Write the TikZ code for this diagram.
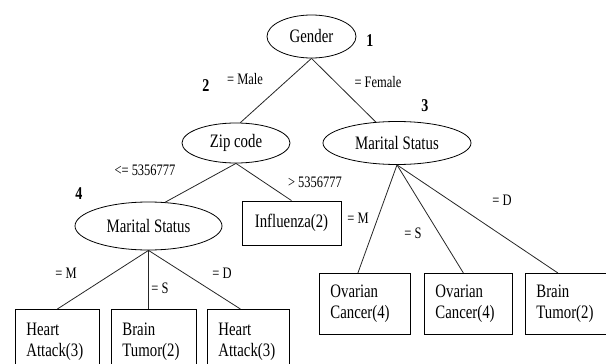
\documentclass[tikz,border=0pt]{standalone}
\usepackage{fontspec}
\setmainfont[FakeStretch=0.78]{Liberation Serif}
\usetikzlibrary{shapes.geometric}

\begin{document}
\begin{tikzpicture}[x=1pt, y=-1pt,
  every node/.style = {inner sep=0pt, font=\fontsize{19}{21}\selectfont},
  test/.style = {shape=ellipse, draw, line width=0.8pt},
  leaf/.style = {shape=rectangle, draw, line width=0.8pt, anchor=north west,
    align=left, inner xsep=11pt},
  cond/.style = {font=\fontsize{16}{17}\selectfont},
  num/.style = {font=\bfseries\fontsize{18}{19}\selectfont},
  branch/.style = {draw, line width=0.8pt, black!85}
  ]
  \useasboundingbox (0,0) rectangle (606,364);
  \clip (0,0) rectangle (606,364);

  \node[test, minimum width=89pt, minimum height=43pt] (gender) at (311.5,36.5) {Gender};
  \node[test, minimum width=108pt, minimum height=40pt] (zip) at (236,143) {Zip code};
  \node[test, minimum width=148pt, minimum height=43pt] (msone) at (397,143) {Marital Status};
  \node[test, minimum width=147pt, minimum height=48pt] (mstwo) at (148.5,226) {Marital Status};
  \node[draw, line width=0.8pt, minimum width=99pt, minimum height=44pt] (flu) at (291.5,223) {Influenza(2)};

  \node[leaf, text width=62pt, minimum height=64pt] (heartl) at (15,309) {Heart\\Attack(3)};
  \node[leaf, text width=63pt, minimum height=64pt] (brainl) at (111,309) {Brain\\Tumor(2)};
  \node[leaf, text width=60pt, minimum height=64pt] (heartr) at (207,309) {Heart\\Attack(3)};
  \node[leaf, text width=69pt, minimum height=61pt] (ovarianl) at (319,273) {Ovarian\\Cancer(4)};
  \node[leaf, text width=66pt, minimum height=61pt] (ovarianr) at (424,273) {Ovarian\\Cancer(4)};
  \node[leaf, text width=59pt, minimum height=61pt] (brainr) at (525,273) {Brain\\Tumor(2)};

  \draw[branch] (gender.south) -- (zip.78);
  \draw[branch] (gender.south) -- (msone);
  \draw[branch] (zip.south) -- (mstwo.55);
  \draw[branch] (zip.south) -- (flu.north);
  \draw[branch] (mstwo.south) -- (heartl.north);
  \draw[branch] (mstwo.south) -- (mstwo.south |- brainl.north);
  \draw[branch] (mstwo.south) -- ([xshift=-8pt]heartr.north);
  \draw[branch] (msone.south) -- ([xshift=-7pt]ovarianl.north);
  \draw[branch] (msone.south) -- ([xshift=-5pt]ovarianr.north);
  \draw[branch] (msone.south) -- ([xshift=-8pt]brainr.north);

  \node[num] (none) at (370,41) {1};
  \node[num] (ntwo) at (206,86) {2};
  \node[num] (nthree) at (425,106) {3};
  \node[num] (nfour) at (79,194) {4};

  \node[cond] (male) at (245,79) {= Male};
  \node[cond] (female) at (378,82) {= Female};
  \node[cond] (low) at (145,170) {<= 5356777};
  \node[cond] (high) at (315,182) {> 5356777};
  \node[cond] (ml) at (66,273) {= M};
  \node[cond] (sl) at (160,288) {= S};
  \node[cond] (dl) at (222,273) {= D};
  \node[cond] (mr) at (358,218) {= M};
  \node[cond] (sr) at (413,233) {= S};
  \node[cond] (dr) at (502,200) {= D};
\end{tikzpicture}
\end{document}
